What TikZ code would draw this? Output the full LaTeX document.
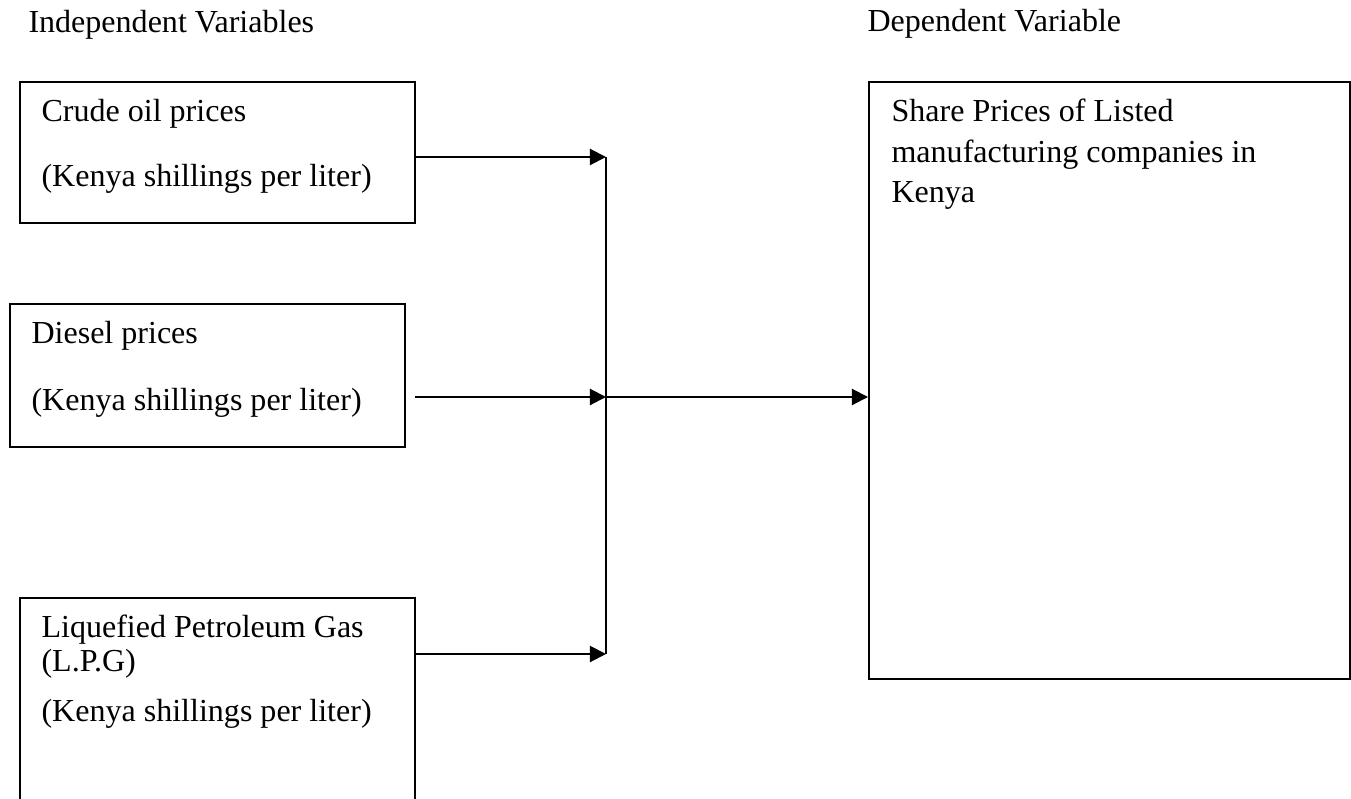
\documentclass[tikz,border=0pt]{standalone}
\usepackage{fontspec}
\setmainfont{Liberation Serif}
\usetikzlibrary{arrows.meta,fit}
\tikzset{
  varbox/.style={draw,line width=0.75pt,inner sep=0pt},
  vartext/.style={anchor=base west,inner sep=0pt,font=\fontsize{12}{14}\selectfont},
  feed/.style={line width=0.75pt,-{Triangle[length=6pt,width=6pt]}}
}
\newcommand{\unitText}{(Kenya shillings per liter)}

\begin{document}
\begin{tikzpicture}[x=0.3745pt,y=-0.3745pt]
\useasboundingbox (0,0) rectangle (1351,798);
\clip (0,0) rectangle (1351,798);
\node[vartext] (indep) at (28,33) {Independent Variables};
\node[vartext] (dep) at (867,32) {Dependent Variable};
\node[varbox,fit={(20,82) (415,223)}] (crude) {};
\node[vartext] (crudeName) at (41,122) {Crude oil prices};
\node[vartext] (crudeUnit) at (41,187) {\unitText};
\node[varbox,fit={(10,304) (405,447)}] (diesel) {};
\node[vartext] (dieselName) at (31,343) {Diesel prices};
\node[vartext] (dieselUnit) at (31,410) {\unitText};
\node[varbox,fit={(20,598) (415,830)}] (lpg) {};
\node[vartext] (lpgName) at (41,637) {Liquefied Petroleum Gas};
\node[vartext] (lpgShort) at (41,671) {(L.P.G)};
\node[vartext] (lpgUnit) at (41,721) {\unitText};
\node[varbox,fit={(869,82) (1350,679)}] (share) {};
\node[vartext] (shareA) at (891,122) {Share Prices of Listed};
\node[vartext] (shareB) at (891,163) {manufacturing companies in};
\node[vartext] (shareC) at (891,202) {Kenya};
\coordinate (joinCrude) at (606,157);
\coordinate (joinDiesel) at (606,397);
\coordinate (joinLpg) at (606,654);
\coordinate (dieselStart) at (415,397);
\draw[feed] (crude.east |- joinCrude) -- (joinCrude);
\draw[feed] (dieselStart) -- (joinDiesel);
\draw[feed] (lpg.east |- joinLpg) -- (joinLpg);
\draw[line width=0.75pt] (joinCrude) -- (joinLpg);
\draw[feed] (joinDiesel) -- (share.west |- joinDiesel);
\end{tikzpicture}
\end{document}
